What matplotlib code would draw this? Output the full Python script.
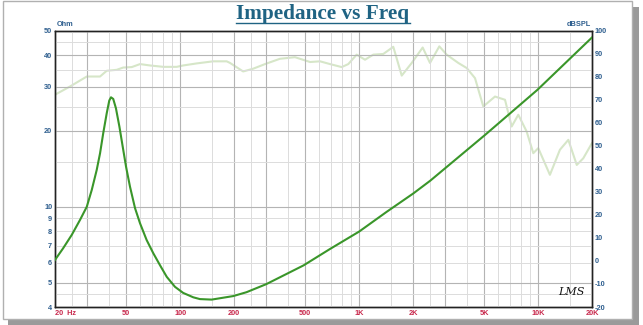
import numpy as np
import matplotlib
matplotlib.use("Agg")
import matplotlib.pyplot as plt
from matplotlib.patches import Rectangle
from matplotlib.lines import Line2D

# impedance curve (Hz, Ohm)
imp_freq = [20, 22.2, 24.8, 27.6, 30.1, 32.1, 34.2, 35.7, 37.2, 38.9, 40.2, 41.1,
            42.3, 43.8, 45.8, 47.8, 49.9, 52.5, 56.0, 59.7, 65.0, 70.8, 77.1, 84.2,
            93.6, 104, 118.5, 129, 150, 198, 235, 303, 489, 688, 1000, 1426, 2010,
            2500, 5060, 9900, 20000]
imp_ohm = [6.15, 6.84, 7.73, 8.87, 10.0, 11.67, 14.0, 16.3, 19.6, 23.5, 26.4, 27.2,
           26.8, 24.6, 20.8, 17.3, 14.4, 12.0, 9.87, 8.6, 7.38, 6.54, 5.87, 5.27,
           4.81, 4.55, 4.37, 4.3, 4.28, 4.42, 4.58, 4.93, 5.85, 6.8, 7.97, 9.55, 11.3,
           12.7, 19.3, 29.1, 47.0]

# frequency response (Hz, dBSPL)
fr_freq = [20, 24.3, 30.1, 35.7, 38.9, 44.2, 48.1, 53.7, 59.7, 67.9, 80.6, 95.7,
           104, 124, 153, 182, 190, 225, 256, 298, 361, 438, 532, 605, 688, 799,
           870, 969, 1079, 1200, 1365, 1552, 1730, 1968, 2265, 2489, 2806, 3084,
           3581, 3990, 4440, 4940, 5742, 6532, 7117, 7750, 8630, 9400, 10020,
           11640, 13240, 14750, 16440, 17880, 20000]
fr_db = [72.2, 75.8, 80.1, 80.1, 82.6, 83.0, 84.0, 84.2, 85.5, 84.9, 84.3, 84.3,
         84.9, 85.8, 86.7, 86.7, 86.0, 82.3, 83.5, 85.5, 87.8, 88.5, 86.4, 86.7,
         85.5, 84.2, 85.5, 89.6, 87.4, 89.6, 89.9, 93.0, 80.5, 86.0, 92.7, 86.0,
         93.2, 89.6, 86.0, 83.8, 79.4, 67.1, 71.4, 70.0, 58.4, 63.5, 56.2, 46.8,
         49.0, 37.4, 48.3, 52.6, 41.7, 44.6, 51.2]

ohm_ticks = [4, 5, 6, 7, 8, 9, 10, 20, 30, 40, 50]
db_ticks = list(range(-20, 101, 10))
freq_ticks = [20, 50, 100, 200, 500, 1000, 2000, 5000, 10000, 20000]
freq_labels = ['20  Hz', '50', '100', '200', '500', '1K', '2K', '5K', '10K', '20K']

W, H = 643, 325
fig = plt.figure(figsize=(W / 100, H / 100), dpi=100)
fig.patch.set_facecolor('white')

# frame with drop shadow
fig.patches.append(Rectangle((8 / W, 0 / H), 631 / W, 6 / H, transform=fig.transFigure,
                             facecolor='#9a9a9a', edgecolor='none', zorder=-3))
fig.patches.append(Rectangle((632 / W, 0 / H), 7 / W, 318 / H, transform=fig.transFigure,
                             facecolor='#9a9a9a', edgecolor='none', zorder=-3))
fig.patches.append(Rectangle((3 / W, 6 / H), 629 / W, 318 / H, transform=fig.transFigure,
                             facecolor='white', edgecolor='#b0b0b0', lw=1.0, zorder=-2))

ax = fig.add_axes([55 / W, (H - 307) / H, 537 / W, 276.3 / H])
ax.set_xscale('log')
ax.set_yscale('log')
ax.set_xlim(20, 20000)
ax.set_ylim(4, 50)

# vertical grid
for dec in [10, 100, 1000, 10000]:
    for m in [1, 1.5, 2, 2.5, 3, 4, 5, 6, 7, 8, 9]:
        f = dec * m
        if f <= 20 or f >= 20000:
            continue
        if m in (1, 2, 3, 5):
            ax.axvline(f, color='#b4b4b4', lw=0.8, zorder=1)
        else:
            ax.axvline(f, color='#dcdcdc', lw=0.7, zorder=1)

# horizontal grid
for z in [4.5, 6, 7, 8, 9, 15, 25, 35, 45]:
    ax.axhline(z, color='#dcdcdc', lw=0.7, zorder=1)
for z in [5, 10, 20, 30, 40]:
    ax.axhline(z, color='#b4b4b4', lw=0.8, zorder=1)

ax2 = ax.twinx()
ax2.set_ylim(-20, 100)
ax2.plot(fr_freq, fr_db, color='#d6e6c8', lw=1.5, zorder=2)

ax.set_zorder(ax2.get_zorder() + 1)
ax.patch.set_visible(False)
ax.plot(imp_freq, imp_ohm, color='#3a962a', lw=1.5, zorder=3)

lbl_blue = '#2f5f8f'
lbl_red = '#c8284c'
tick_font = dict(family='Liberation Sans', size=5.3, weight='bold')

ax.set_yticks(ohm_ticks)
ax.set_yticklabels([str(t) for t in ohm_ticks], color=lbl_blue, **tick_font)
ax.yaxis.set_minor_locator(matplotlib.ticker.NullLocator())
ax.set_xticks(freq_ticks)
ax.set_xticklabels(freq_labels, color=lbl_red, **tick_font)
ax.xaxis.set_minor_locator(matplotlib.ticker.NullLocator())
ax.tick_params(length=0, pad=2)
ax.get_xticklabels()[0].set_horizontalalignment('left')

ax2.set_yticks(db_ticks)
ax2.set_yticklabels([str(t) for t in db_ticks], color=lbl_blue, **tick_font)
ax2.tick_params(length=0, pad=2)

for a in (ax, ax2):
    for s in a.spines.values():
        s.set_color('#222222')
        s.set_linewidth(1.0)

fig.text(57 / W, (H - 24) / H, 'Ohm', color=lbl_blue, ha='left', va='center', **tick_font)
fig.text(591 / W, (H - 25) / H, 'dBSPL', color=lbl_blue, ha='right', va='center', **tick_font)

fig.text(571 / W, (H - 292) / H, 'LMS', color='#111111', ha='center', va='center',
         family='DejaVu Serif', style='italic', size=8)

title = fig.text(323 / W, (H - 14) / H, 'Impedance vs Freq', color='#1f6383',
                 ha='center', va='center', family='Liberation Serif', weight='bold', size=15.3)
fig.canvas.draw()
bb = title.get_window_extent(fig.canvas.get_renderer())
uy = (bb.y0 + 1) / H
fig.lines.append(Line2D([bb.x0 / W, bb.x1 / W], [uy, uy], transform=fig.transFigure,
                        color='#1f6383', lw=1.0))

fig.savefig('out.png', dpi=100)
